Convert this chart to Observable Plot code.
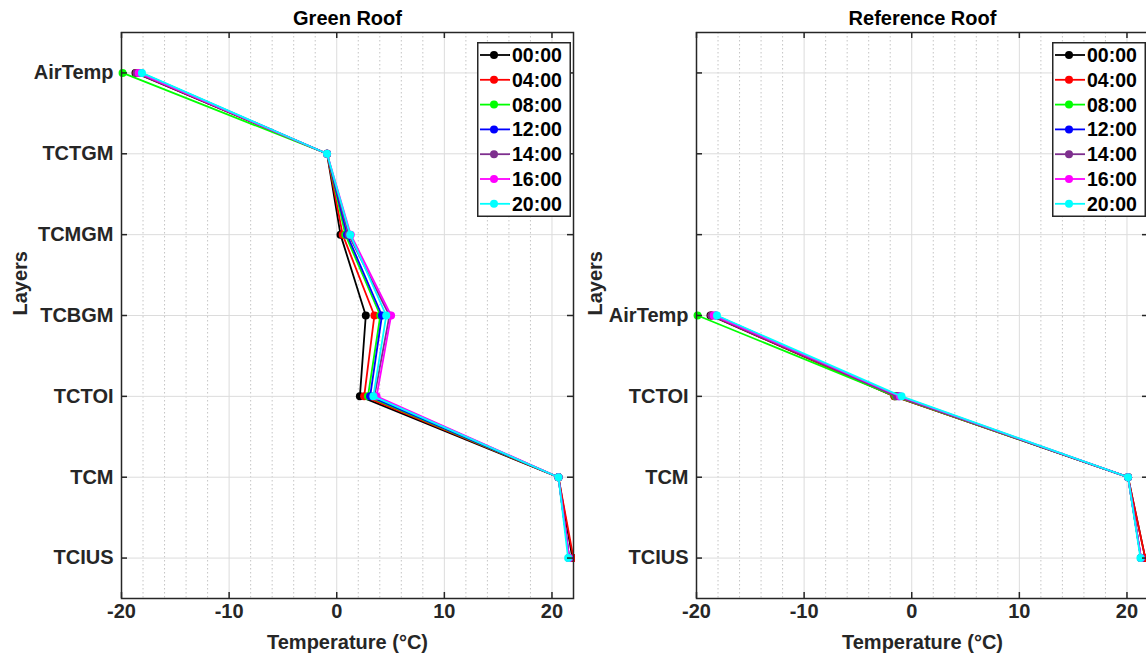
<!DOCTYPE html>
<html><head><meta charset="utf-8">
<script src="https://cdn.jsdelivr.net/npm/d3@7"></script>
<script src="https://cdn.jsdelivr.net/npm/@observablehq/plot@0.6"></script>
<style>
html,body{margin:0;padding:0;background:#fff}
body{width:1146px;height:655px;overflow:hidden;position:relative}
.panel{position:absolute;top:0;width:600px;height:655px}
#left{left:0}
#right{left:575px}
.legend{position:absolute;top:42px;left:477px}
svg text{font-family:"Liberation Sans",Arial,Helvetica,sans-serif}
</style></head><body>
<div id="left" class="panel"></div>
<div id="right" class="panel"></div>
<script>
// ---- data ----
const times = ["00:00","04:00","08:00","12:00","14:00","16:00","20:00"];
const colors = ["#000000","#ff0000","#00ff00","#0000ff","#7e2f8e","#ff00ff","#00ffff"];

const greenTickLabels = ["AirTemp","TCTGM","TCMGM","TCBGM","TCTOI","TCM","TCIUS"];
const refTickLabels = ["","","","AirTemp","TCTOI","TCM","TCIUS"];
const greenLayers = ["AirTemp","TCTGM","TCMGM","TCBGM","TCTOI","TCM","TCIUS"];
const refLayers = ["AirTemp","TCTOI","TCM","TCIUS"];

// Green roof temperatures (°C), per time, in greenLayers order
const green0000 = [-18.7, -0.9, 0.35, 2.7, 2.15, 20.6, 21.9];
const green0400 = [-18.6, -0.9, 0.55, 3.5, 2.55, 20.6, 22.0];
const green0800 = [-19.9, -0.9, 0.8, 4.05, 2.9, 20.6, 21.6];
const green1200 = [-18.2, -0.9, 0.95, 4.2, 3.1, 20.6, 21.6];
const green1400 = [-18.6, -0.9, 1.1, 4.9, 3.5, 20.6, 21.6];
const green1600 = [-18.4, -0.9, 1.3, 5.05, 3.7, 20.6, 21.6];
const green2000 = [-18.1, -0.9, 1.25, 4.6, 3.4, 20.6, 21.5];

// Reference roof temperatures (°C), per time, in refLayers order
const ref0000 = [-18.7, -1.6, 20.1, 21.7];
const ref0400 = [-18.6, -1.6, 20.1, 21.7];
const ref0800 = [-19.9, -1.5, 20.1, 21.3];
const ref1200 = [-18.2, -1.2, 20.1, 21.3];
const ref1400 = [-18.6, -1.4, 20.1, 21.3];
const ref1600 = [-18.4, -1.1, 20.1, 21.3];
const ref2000 = [-18.1, -0.95, 20.1, 21.25];

const xMajorTicks = [-20, -10, 0, 10, 20];
const xMinorTicks = [-18,-16,-14,-12,-8,-6,-4,-2,2,4,6,8,12,14,16,18];
const yTickPositions = [1,2,3,4,5,6,7];

const greenSeries = [green0000, green0400, green0800, green1200, green1400, green1600, green2000];
const refSeries = [ref0000, ref0400, ref0800, ref1200, ref1400, ref1600, ref2000];

function rowsFor(series, layers, tickLabels) {
  const rows = [];
  series.forEach((vals, si) => {
    vals.forEach((v, li) => {
      rows.push({time: times[si], layer: layers[li], pos: tickLabels.indexOf(layers[li]) + 1, temp: v});
    });
  });
  return rows;
}

const FONT = '"Liberation Sans",Arial,Helvetica,sans-serif';
const INK = "#262626";
const FS = 20;

function panel(title, rows, tickLabels) {
  const W = 600, H = 655, mL = 121, mR = 27, mT = 32, mB = 57;
  const fw = W - mL - mR, fh = H - mT - mB;
  const seriesMarks = times.flatMap(t => {
    const d = rows.filter(r => r.time === t);
    return [
      Plot.line(d, {x: "temp", y: "pos", stroke: "time", strokeWidth: 1.8}),
      Plot.dot(d, {x: "temp", y: "pos", fill: "time", r: 4})
    ];
  });
  return Plot.plot({
    width: W, height: H,
    marginLeft: mL, marginRight: mR, marginTop: mT, marginBottom: mB,
    style: {fontFamily: FONT, fontSize: FS + "px", fontWeight: "bold", color: INK, background: "white", overflow: "visible"},
    x: {domain: [-20, 22]},
    y: {domain: [0.5, 7.5], reverse: true},
    color: {domain: times, range: colors},
    marks: [
      Plot.ruleX(xMinorTicks, {stroke: "#c4c4c4", strokeWidth: 1, strokeDasharray: "1.5,2.5"}),
      Plot.ruleX(xMajorTicks, {stroke: "#dcdcdc", strokeWidth: 1}),
      Plot.ruleY(yTickPositions, {stroke: "#dcdcdc", strokeWidth: 1}),
      ...seriesMarks,
      Plot.frame({stroke: INK, strokeWidth: 1.5}),
      Plot.tickX(xMajorTicks, {stroke: INK, strokeWidth: 1.5, insetTop: fh - 6}),
      Plot.tickX(xMajorTicks, {stroke: INK, strokeWidth: 1.5, insetBottom: fh - 6}),
      Plot.tickY(yTickPositions, {stroke: INK, strokeWidth: 1.5, insetRight: fw - 6}),
      Plot.tickY(yTickPositions, {stroke: INK, strokeWidth: 1.5, insetLeft: fw - 6}),
      Plot.axisX(xMajorTicks, {anchor: "bottom", tickSize: 0, tickPadding: 5, label: null, fill: INK, tickFormat: d => String(d)}),
      Plot.axisY(yTickPositions, {anchor: "left", tickSize: 0, tickPadding: 8, label: null, fill: INK, tickFormat: i => tickLabels[i - 1]}),
      Plot.text([title], {frameAnchor: "top", lineAnchor: "middle", dy: -14, fontSize: FS, fontWeight: "bold", fill: "#000"}),
      Plot.text(["Temperature (°C)"], {frameAnchor: "bottom", lineAnchor: "middle", dy: 44, fontSize: FS, fontWeight: "bold", fill: INK}),
      Plot.text(["Layers"], {frameAnchor: "left", dx: -101, rotate: -90, fontSize: FS, fontWeight: "bold", fill: INK})
    ]
  });
}

function legend() {
  const w = 94, h = 175, rowH = 24.8, y0 = 13;
  const svg = d3.create("svg").attr("width", w).attr("height", h).attr("class", "legend");
  svg.append("rect").attr("x", 0.75).attr("y", 0.75).attr("width", w - 1.5).attr("height", h - 1.5)
    .attr("fill", "white").attr("stroke", INK).attr("stroke-width", 1.5);
  times.forEach((t, i) => {
    const y = y0 + i * rowH;
    const g = svg.append("g");
    g.append("line").attr("x1", 3).attr("x2", 33).attr("y1", y).attr("y2", y).attr("stroke", colors[i]).attr("stroke-width", 1.8);
    g.append("circle").attr("cx", 17).attr("cy", y).attr("r", 4).attr("fill", colors[i]);
    g.append("text").attr("x", 35).attr("y", y).attr("dy", "0.36em").attr("font-size", 19.5)
      .attr("font-weight", "bold").attr("fill", "#000").style("font-family", FONT).text(t);
  });
  return svg.node();
}

const left = document.getElementById("left");
left.appendChild(panel("Green Roof", rowsFor(greenSeries, greenLayers, greenTickLabels), greenTickLabels));
left.appendChild(legend());

const right = document.getElementById("right");
right.appendChild(panel("Reference Roof", rowsFor(refSeries, refLayers, refTickLabels), refTickLabels));
right.appendChild(legend());
</script>
</body></html>
